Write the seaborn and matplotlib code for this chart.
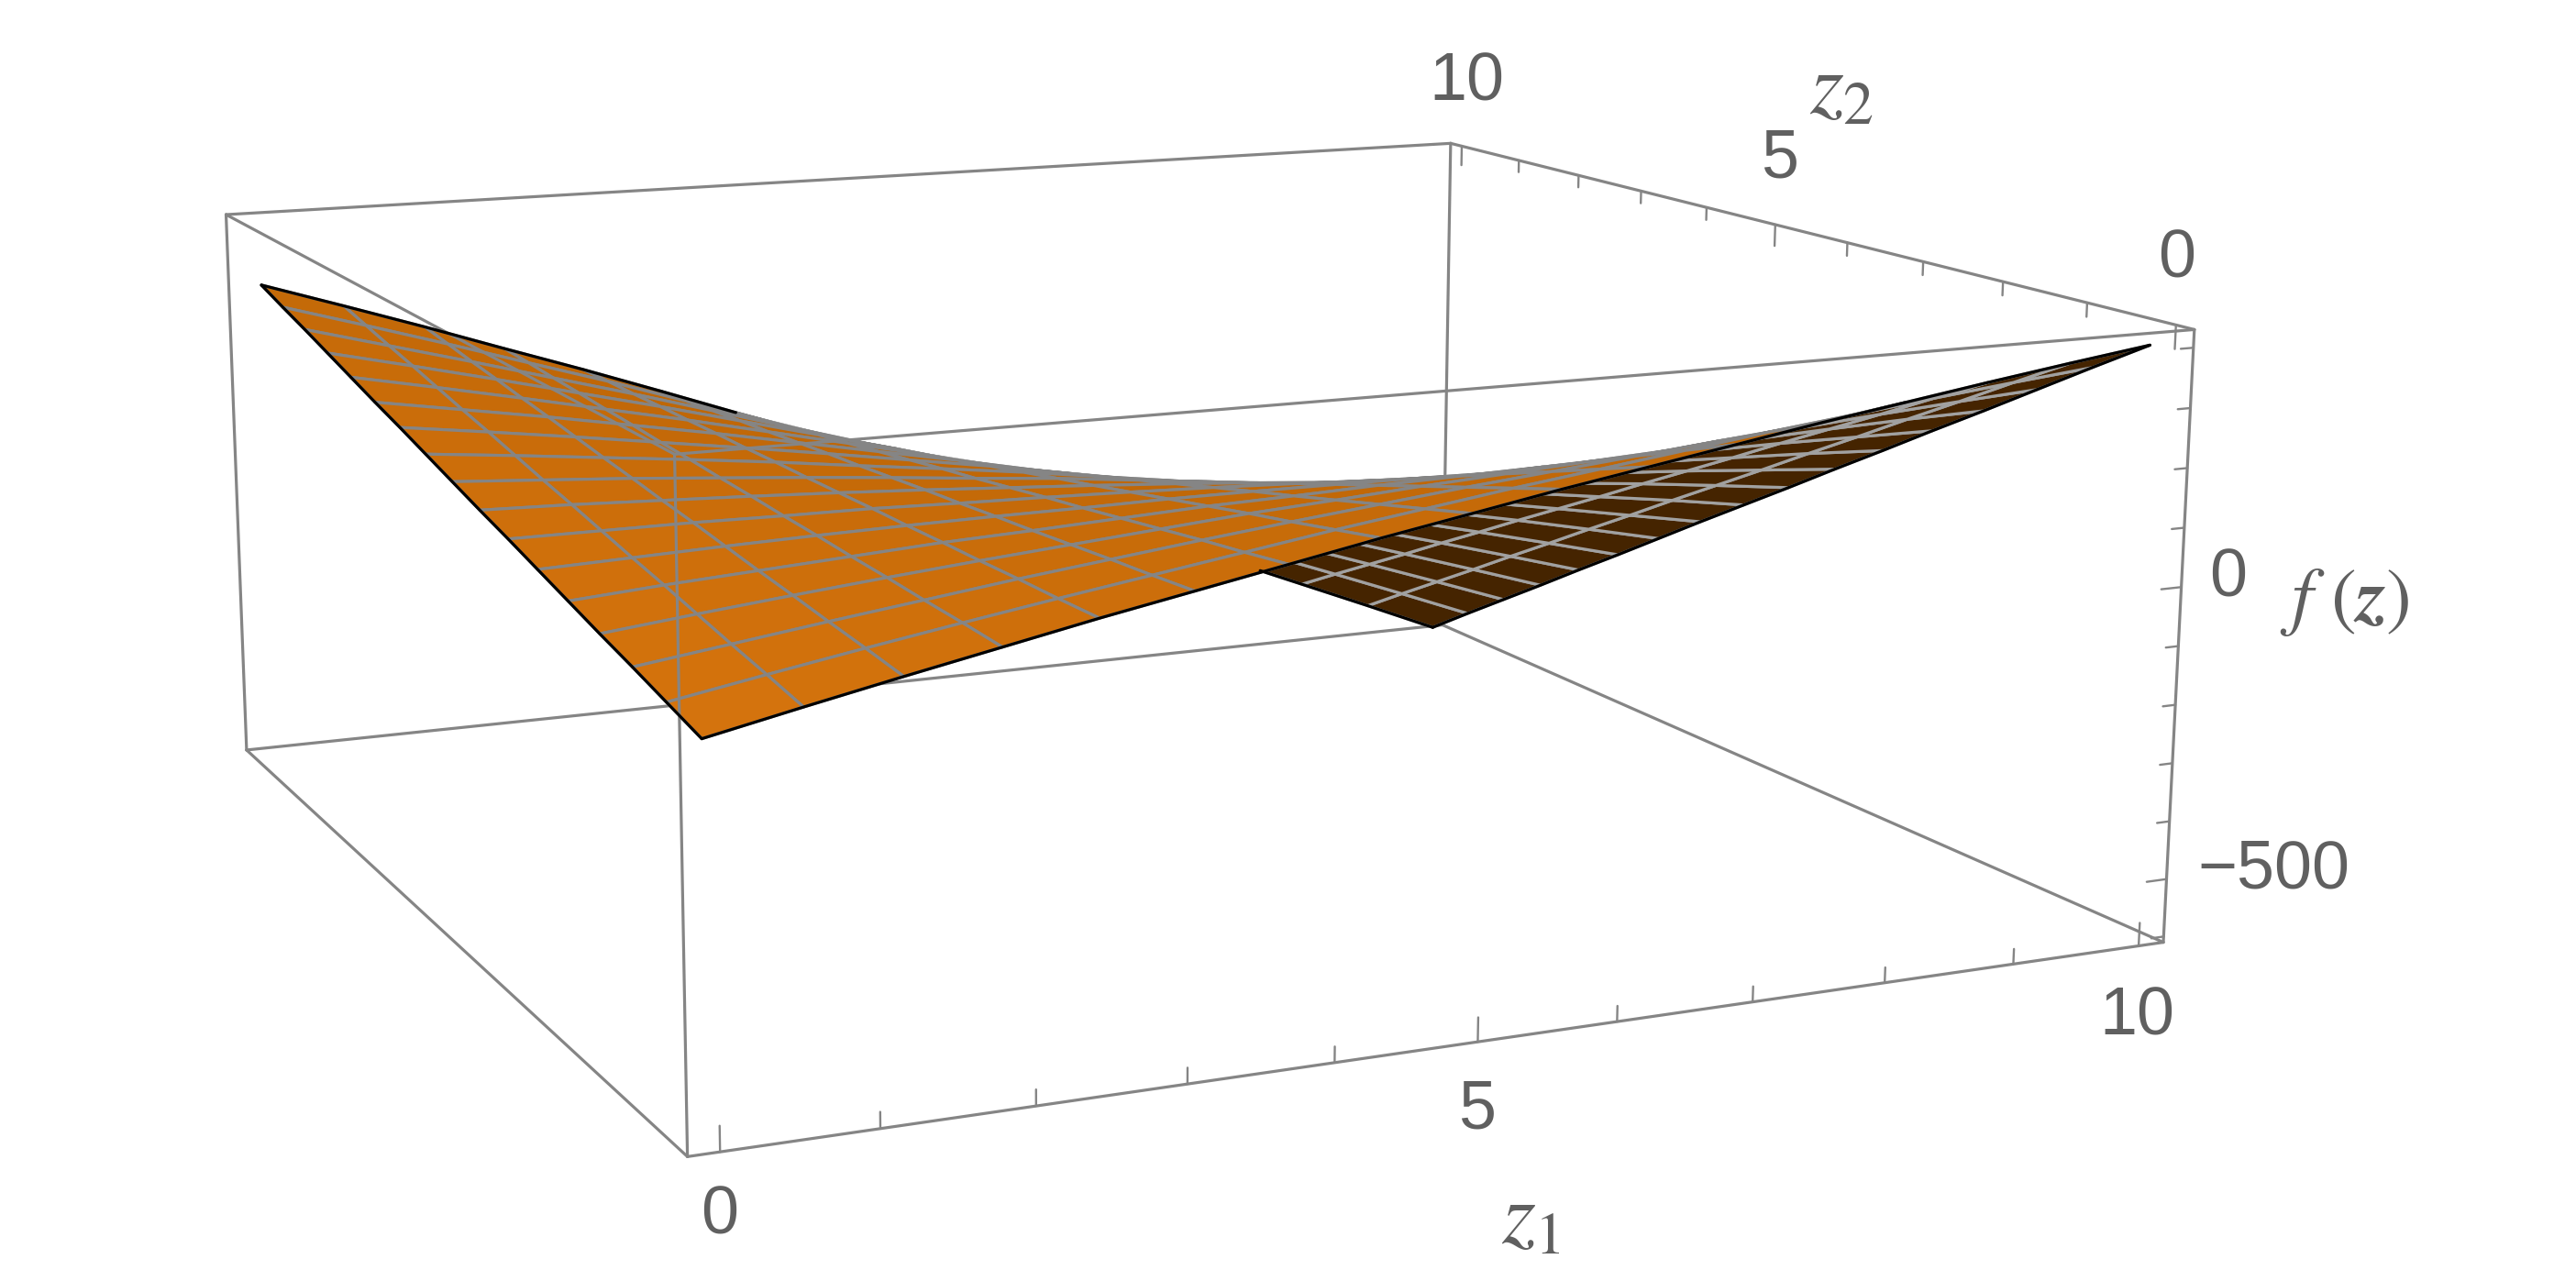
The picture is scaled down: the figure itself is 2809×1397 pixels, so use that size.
import numpy as np
import matplotlib
matplotlib.use("Agg")
import matplotlib.pyplot as plt
import seaborn as sns
from mpl_toolkits.mplot3d import proj3d

W, H = 2809, 1397

z1_grid = [0, 0.625, 1.25, 1.875, 2.5, 3.125, 3.75, 4.375, 5, 5.625, 6.25, 6.875, 7.5, 8.125, 8.75, 9.375, 10]
z2_grid = [0, 0.625, 1.25, 1.875, 2.5, 3.125, 3.75, 4.375, 5, 5.625, 6.25, 6.875, 7.5, 8.125, 8.75, 9.375, 10]

# f(z), one row per z2 value, one column per z1 value
f_values = [
    [0, 31, 61, 90, 119, 146, 173, 200, 225, 250, 273, 296, 319, 340, 361, 381, 400],
    [19, 45, 70, 94, 117, 139, 161, 183, 203, 223, 241, 259, 277, 293, 309, 324, 338],
    [38, 58, 78, 97, 116, 133, 150, 166, 181, 196, 209, 222, 235, 245, 256, 266, 275],
    [56, 72, 87, 101, 114, 126, 138, 150, 159, 169, 177, 185, 192, 198, 204, 209, 212],
    [75, 86, 95, 104, 113, 119, 126, 133, 137, 142, 145, 148, 150, 151, 152, 151, 150],
    [94, 99, 104, 108, 111, 113, 114, 116, 116, 115, 113, 110, 108, 104, 99, 94, 87],
    [113, 113, 113, 111, 110, 106, 103, 99, 94, 88, 81, 73, 66, 56, 47, 36, 25],
    [131, 127, 121, 115, 108, 100, 91, 82, 72, 61, 49, 36, 24, 9, -5, -21, -38],
    [150, 140, 130, 118, 106, 93, 79, 66, 50, 34, 17, -1, -19, -38, -58, -78, -100],
    [169, 154, 138, 122, 105, 86, 68, 49, 28, 7, -15, -38, -61, -85, -110, -136, -162],
    [188, 168, 147, 125, 103, 80, 56, 32, 6, -20, -47, -75, -103, -133, -162, -193, -225],
    [206, 181, 156, 129, 102, 73, 44, 15, -16, -46, -79, -112, -145, -180, -215, -251, -288],
    [225, 195, 164, 132, 100, 66, 32, -2, -38, -73, -111, -149, -187, -227, -267, -308, -350],
    [244, 209, 173, 136, 99, 60, 21, -18, -59, -100, -143, -186, -230, -275, -320, -366, -413],
    [263, 222, 181, 139, 97, 53, 9, -35, -81, -127, -175, -223, -272, -322, -372, -423, -475],
    [281, 236, 190, 143, 96, 46, -3, -52, -103, -154, -207, -260, -314, -369, -424, -480, -537],
    [300, 250, 199, 146, 94, 40, -15, -69, -125, -181, -240, -298, -356, -416, -477, -538, -600],
]

z1_ticks = [0, 5, 10]
z2_ticks = [0, 5, 10]
f_ticks = [-500, 0]
z1_minor = [1, 2, 3, 4, 6, 7, 8, 9]
z2_minor = [1, 2, 3, 4, 6, 7, 8, 9]
f_minor = [-600, -400, -300, -200, -100, 100, 200, 300, 400]

sns.set_theme(style="white")
plt.rcParams['font.family'] = ['Liberation Sans', 'DejaVu Sans']
plt.rcParams['mathtext.fontset'] = 'stix'

fig = plt.figure(figsize=(W / 100, H / 100), dpi=100, facecolor='white')
ax = fig.add_subplot(projection='3d', computed_zorder=False)
ax.set_axis_off()

xlo, xhi = -0.2, 10.2
ylo, yhi = -0.2, 10.2
zlo, zhi = -610, 430
ax.set_xlim(xlo, xhi)
ax.set_ylim(ylo, yhi)
ax.set_zlim(zlo, zhi)

# camera fitted against the box corners of the reference
ax.view_init(elev=12.352, azim=-114.641, roll=-0.162)
ax.set_proj_type('persp', focal_length=0.427)
ax.set_box_aspect((1, 0.9789, 0.3986))
ax.set_position([81.0 / W, -371.65 / H, 2260.4 / W, 2260.4 / H])

line_gray = '#858585'


def edge(a, b, zo):
    ax.plot([a[0], b[0]], [a[1], b[1]], [a[2], b[2]], color=line_gray, lw=2.3, zorder=zo, clip_on=False)


c = {(i, j, n): (xlo if i == 0 else xhi, ylo if j == 0 else yhi, zlo if n == 0 else zhi)
     for i in (0, 1) for j in (0, 1) for n in (0, 1)}
for a, b in [((0, 1, 0), (1, 1, 0)), ((1, 1, 0), (1, 1, 1)), ((0, 1, 0), (0, 1, 1)), ((0, 0, 0), (0, 1, 0))]:
    edge(c[a], c[b], 1)
for a, b in [((0, 0, 0), (1, 0, 0)), ((1, 0, 0), (1, 0, 1)), ((0, 0, 0), (0, 0, 1)), ((0, 0, 1), (1, 0, 1)),
             ((0, 0, 1), (0, 1, 1)), ((0, 1, 1), (1, 1, 1)), ((1, 0, 1), (1, 1, 1)), ((1, 0, 0), (1, 1, 0))]:
    edge(c[a], c[b], 3)

X, Y = np.meshgrid(z1_grid, z2_grid)
Z = np.array(f_values, dtype=float)

# which side of each cell faces the camera
M = ax.get_proj()
sx, sy, _ = proj3d.proj_transform(X.ravel(), Y.ravel(), Z.ravel(), M)
sx = sx.reshape(X.shape)
sy = sy.reshape(X.shape)
d1x = sx[1:, 1:] - sx[:-1, :-1]
d1y = sy[1:, 1:] - sy[:-1, :-1]
d2x = sx[1:, :-1] - sx[:-1, 1:]
d2y = sy[1:, :-1] - sy[:-1, 1:]
area = d1x * d2y - d1y * d2x
top_side = np.sign(area) == np.sign(area[0, 0])

n = Z.shape[0] - 1
ii, jj = np.meshgrid(np.arange(n), np.arange(n))
t = (0.65 * ii + 0.35 * jj) / (n - 1)
orange = np.array([0.83, 0.45, 0.05])[None, None, :] * (1 - t[..., None]) + np.array([0.66, 0.35, 0.0])[None, None, :] * t[..., None]
dark = np.array([0.27, 0.14, 0.0])
fc = np.where(top_side[..., None], orange, dark)
fc = np.dstack([fc, np.ones(fc.shape[:2])])

surf = ax.plot_surface(X, Y, Z, facecolors=fc, rstride=1, cstride=1, shade=False, zorder=2, antialiased=True)
edge_cols = np.where(top_side.ravel()[:, None], [[0.52, 0.52, 0.52, 1.0]], [[0.63, 0.63, 0.63, 1.0]])
surf.set_edgecolor(edge_cols)
surf.set_linewidth(2.3)
surf.set_clip_on(False)

# surface outline, the back edge only where it is not hidden by the near sheet
cross = 8.36
back_x = np.r_[cross, X[-1, 14:]]
back_z = np.r_[np.interp(cross, X[-1], Z[-1]), Z[-1, 14:]]
for xs, ys, zs in [(X[0], Y[0], Z[0]), (X[:, 0], Y[:, 0], Z[:, 0]), (X[:, -1], Y[:, -1], Z[:, -1]),
                   (X[-1, :7], Y[-1, :7], Z[-1, :7]), (back_x, np.full(back_x.shape, 10.0), back_z)]:
    ax.plot(xs, ys, zs, color='black', lw=2.3, zorder=4, clip_on=False)

# ticks
for v in z1_ticks + z1_minor:
    L = 40 if v in z1_ticks else 26
    ax.plot([v, v], [ylo, ylo], [zlo, zlo + L], color=line_gray, lw=1.7, zorder=3, clip_on=False)
for v in z2_ticks + z2_minor:
    L = 40 if v in z2_ticks else 24
    ax.plot([xhi, xhi], [v, v], [zhi, zhi - L], color=line_gray, lw=1.7, zorder=3, clip_on=False)
for v in f_ticks + f_minor:
    L = 0.16 if v in f_ticks else 0.1
    ax.plot([xhi, xhi - L], [ylo, ylo], [v, v], color=line_gray, lw=1.7, zorder=3, clip_on=False)

k = 2809 / 1568


def label(x, y, s_, size=53, **kw):
    fig.text(x * k / W, 1 - y * k / H, s_, ha='center', va='center', color='#606060', fontsize=size, **kw)


for x, y, s_ in [(893, 50, '10'), (1083, 97, '5'), (1325, 158, '0'), (438, 740, '0'), (899, 676, '5'),
                 (1301, 619, '10'), (1356, 352, '0'), (1384, 530, '\u2212500')]:
    label(x, y, s_)
label(1121, 55, r'$z_2$', size=68)
label(932, 743, r'$z_1$', size=68)
label(1427, 367, r'$f\,\,(\boldsymbol{z})$', size=60)

fig.savefig('out.png', dpi=100)
